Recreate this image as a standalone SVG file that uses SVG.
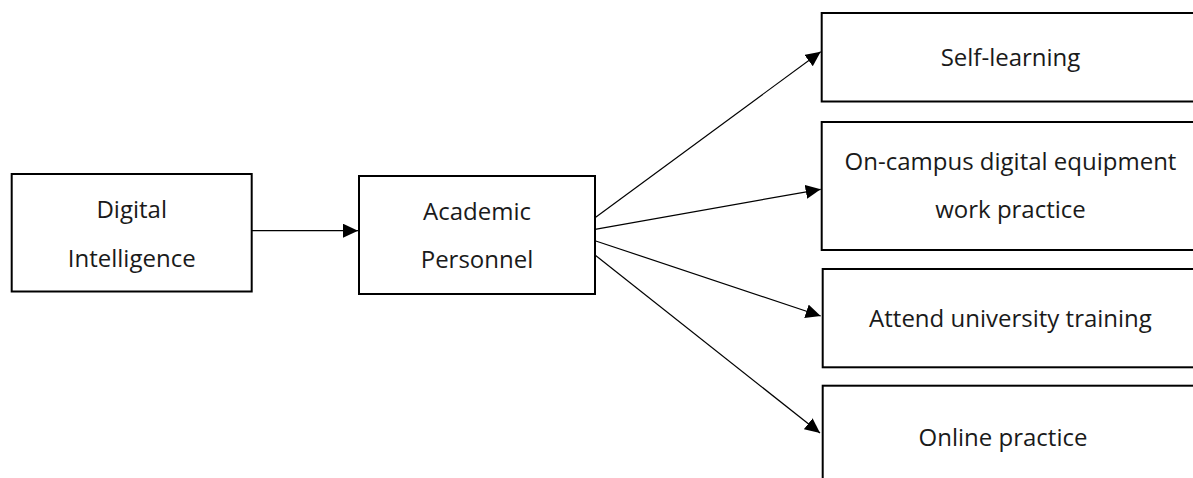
<svg xmlns="http://www.w3.org/2000/svg" width="1193" height="478" viewBox="0 0 1193 478">
  <defs>
    <marker id="arrow" markerUnits="userSpaceOnUse" markerWidth="15" markerHeight="14" refX="15" refY="7" orient="auto">
      <path d="M0,0 L15,7 L0,14 Z" fill="#000"/>
    </marker>
    <style>
      .box { fill: #fff; stroke: #000; stroke-width: 2; }
      .lbl { font-family: "Open Sans", "Noto Sans", sans-serif; font-size: 24px; fill: #1a1a1a; text-anchor: middle; }
      .edge { stroke: #000; stroke-width: 1.2; fill: none; marker-end: url(#arrow); }
    </style>
  </defs>
  <rect width="1193" height="478" fill="#fff"/>

  <g id="connectors">
    <line class="edge" x1="252" y1="230.7" x2="358" y2="230.7"/>
    <line class="edge" x1="595" y1="217.7" x2="820.7" y2="51.7"/>
    <line class="edge" x1="595" y1="229.3" x2="820.7" y2="189.3"/>
    <line class="edge" x1="595" y1="240.7" x2="820.7" y2="316"/>
    <line class="edge" x1="595" y1="255" x2="820" y2="433"/>
  </g>

  <g id="node-digital-intelligence">
    <rect class="box" x="11.7" y="174" width="240" height="117.5"/>
    <text class="lbl" x="131.7" y="218">Digital</text>
    <text class="lbl" x="131.7" y="266.5">Intelligence</text>
  </g>

  <g id="node-academic-personnel">
    <rect class="box" x="359" y="176" width="236" height="118"/>
    <text class="lbl" x="477" y="220">Academic</text>
    <text class="lbl" x="477" y="268">Personnel</text>
  </g>

  <g id="node-self-learning">
    <rect class="box" x="821.7" y="13" width="380" height="88.5"/>
    <text class="lbl" x="1010.5" y="65.5">Self-learning</text>
  </g>

  <g id="node-on-campus">
    <rect class="box" x="821.7" y="122" width="380" height="128"/>
    <text class="lbl" x="1010.5" y="170">On-campus digital equipment</text>
    <text class="lbl" x="1010.5" y="218">work practice</text>
  </g>

  <g id="node-attend-training">
    <rect class="box" x="822.7" y="269" width="380" height="98.3"/>
    <text class="lbl" x="1010.5" y="326.5">Attend university training</text>
  </g>

  <g id="node-online-practice">
    <rect class="box" x="822.7" y="385.7" width="380" height="120"/>
    <text class="lbl" x="1003" y="445.5">Online practice</text>
  </g>
</svg>
